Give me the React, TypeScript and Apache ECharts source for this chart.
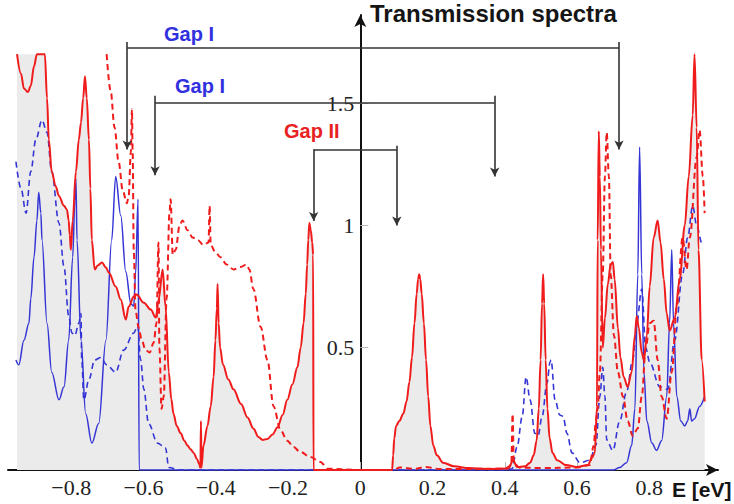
import React, { useEffect, useRef } from 'react';
import * as echarts from 'echarts';

// ---- data (E [eV], transmission) ----
const redSolid: [number, number][] = [
  [-0.950, 1.70], [-0.939, 1.62], [-0.931, 1.56], [-0.920, 1.545], [-0.912, 1.57], [-0.903, 1.65], [-0.895, 1.70],
  [-0.884, 1.70], [-0.873, 1.70], [-0.867, 1.52], [-0.862, 1.35], [-0.854, 1.22], [-0.843, 1.16], [-0.834, 1.12],
  [-0.820, 1.08], [-0.812, 1.065], [-0.807, 1.02], [-0.804, 0.96], [-0.801, 0.90], [-0.796, 1.02], [-0.787, 1.22],
  [-0.779, 1.35], [-0.773, 1.42], [-0.767, 1.52], [-0.762, 1.61], [-0.757, 1.52], [-0.751, 1.35], [-0.747, 1.15],
  [-0.743, 0.94], [-0.735, 0.82], [-0.727, 0.836], [-0.715, 0.848], [-0.704, 0.828], [-0.696, 0.807], [-0.677, 0.75],
  [-0.663, 0.697], [-0.649, 0.615], [-0.641, 0.668], [-0.627, 0.709], [-0.619, 0.717], [-0.599, 0.684], [-0.580, 0.656],
  [-0.566, 0.623], [-0.558, 0.697], [-0.547, 0.82], [-0.539, 0.668], [-0.530, 0.40], [-0.523, 0.29], [-0.517, 0.23],
  [-0.508, 0.18], [-0.497, 0.15], [-0.487, 0.12], [-0.478, 0.10], [-0.470, 0.085], [-0.461, 0.07], [-0.452, 0.045],
  [-0.446, 0.025], [-0.4425, 0.008], [-0.441, 0.2], [-0.4395, 0.01], [-0.434, 0.10], [-0.423, 0.18], [-0.414, 0.26],
  [-0.406, 0.38], [-0.401, 0.53], [-0.397, 0.66], [-0.395, 0.76], [-0.392, 0.6], [-0.388, 0.5], [-0.380, 0.43],
  [-0.365, 0.37], [-0.351, 0.33], [-0.330, 0.27], [-0.312, 0.215], [-0.296, 0.17], [-0.282, 0.135], [-0.270, 0.123],
  [-0.257, 0.127], [-0.243, 0.145], [-0.229, 0.175], [-0.215, 0.225], [-0.202, 0.287], [-0.188, 0.35], [-0.174, 0.42],
  [-0.165, 0.50], [-0.157, 0.60], [-0.151, 0.72], [-0.147, 0.84], [-0.144, 0.94], [-0.141, 1.01], [-0.137, 0.98],
  [-0.133, 0.93], [-0.1305, 0.88], [-0.1295, 0.0],
  [0.0, 0.0], [0.088, 0.0], [0.091, 0.06], [0.094, 0.13], [0.099, 0.18], [0.108, 0.20], [0.119, 0.23], [0.128, 0.28],
  [0.136, 0.36], [0.143, 0.46], [0.150, 0.60], [0.156, 0.72], [0.160, 0.78], [0.163, 0.80], [0.166, 0.78],
  [0.170, 0.72], [0.176, 0.60], [0.182, 0.45], [0.188, 0.30], [0.194, 0.18], [0.202, 0.10], [0.212, 0.06],
  [0.229, 0.03], [0.260, 0.015], [0.300, 0.008], [0.350, 0.004], [0.410, 0.006], [0.423, 0.04], [0.434, 0.012],
  [0.456, 0.015], [0.470, 0.03], [0.480, 0.06], [0.488, 0.12], [0.494, 0.25], [0.499, 0.45], [0.503, 0.68],
  [0.506, 0.80], [0.509, 0.68], [0.513, 0.45], [0.518, 0.25], [0.524, 0.13], [0.532, 0.07], [0.545, 0.04],
  [0.570, 0.02], [0.599, 0.012], [0.630, 0.02], [0.641, 0.05], [0.649, 0.07], [0.655, 0.258],
  [0.657, 0.94], [0.660, 1.385], [0.663, 1.2], [0.666, 0.9], [0.671, 0.5], [0.677, 0.62], [0.685, 0.76], [0.693, 0.84],
  [0.699, 0.85], [0.704, 0.78], [0.713, 0.58], [0.720, 0.46], [0.729, 0.38], [0.740, 0.34], [0.751, 0.40],
  [0.760, 0.55], [0.765, 0.63], [0.771, 0.58], [0.779, 0.48], [0.785, 0.45], [0.793, 0.55], [0.801, 0.75],
  [0.812, 0.95], [0.823, 1.02], [0.831, 0.93], [0.840, 0.78], [0.848, 0.64], [0.856, 0.57], [0.870, 0.62],
  [0.884, 0.78], [0.898, 1.0], [0.909, 1.2], [0.920, 1.45], [0.925, 1.70], [0.931, 1.4], [0.936, 0.9],
  [0.945, 0.45], [0.953, 0.28],
];

// the shaded band reaches the top of the frame over the leftmost resonance
const fillTopLeft: [number, number][] = [[-0.950, 1.70], [-0.873, 1.70]];

const redDashed: [number, number][] = [
  [-0.702, 1.70], [-0.691, 1.55], [-0.680, 1.40], [-0.669, 1.26], [-0.657, 1.14], [-0.646, 1.09], [-0.641, 1.12],
  [-0.635, 1.3], [-0.632, 1.475], [-0.630, 1.3], [-0.627, 0.9], [-0.622, 0.65], [-0.613, 0.58], [-0.605, 0.53],
  [-0.594, 0.49], [-0.583, 0.48], [-0.572, 0.52], [-0.564, 0.6], [-0.5585, 0.93], [-0.556, 0.5], [-0.550, 0.25],
  [-0.544, 0.3], [-0.536, 0.7], [-0.528, 1.05], [-0.525, 1.107], [-0.519, 0.88], [-0.511, 0.9], [-0.500, 1.0],
  [-0.492, 1.02], [-0.478, 0.98], [-0.464, 0.95], [-0.450, 0.94], [-0.434, 0.92], [-0.420, 0.93], [-0.417, 1.08],
  [-0.414, 0.92], [-0.401, 0.89], [-0.387, 0.87], [-0.370, 0.84], [-0.351, 0.82], [-0.331, 0.83], [-0.315, 0.84],
  [-0.307, 0.82], [-0.296, 0.74], [-0.276, 0.586], [-0.257, 0.45], [-0.240, 0.26], [-0.221, 0.164], [-0.202, 0.12],
  [-0.185, 0.094], [-0.166, 0.074], [-0.138, 0.053], [-0.110, 0.033], [-0.091, 0.005], [0.0, 0.0], [0.09, 0.0],
  [0.11, 0.01], [0.15, 0.005], [0.18, 0.012], [0.22, 0.004], [0.40, 0.005], [0.418, 0.02], [0.4215, 0.23],
  [0.425, 0.03], [0.44, 0.01], [0.50, 0.008], [0.60, 0.01], [0.635, 0.02], [0.646, 0.1], [0.652, 0.2], [0.657, 0.25],
  [0.663, 0.4], [0.671, 0.8], [0.677, 1.2], [0.682, 1.38], [0.688, 1.2], [0.693, 0.8], [0.702, 0.55], [0.713, 0.4],
  [0.727, 0.3], [0.740, 0.2], [0.754, 0.14], [0.768, 0.17], [0.779, 0.3], [0.790, 0.5], [0.801, 0.6], [0.812, 0.61],
  [0.823, 0.45], [0.834, 0.3], [0.848, 0.21], [0.862, 0.4], [0.876, 0.67], [0.892, 0.95], [0.903, 0.82],
  [0.912, 0.95], [0.931, 1.28], [0.939, 1.39], [0.948, 1.2], [0.953, 1.05],
];

const blueSolid: [number, number][] = [
  [-0.953, 0.45], [-0.945, 0.43], [-0.931, 0.53], [-0.917, 0.60], [-0.912, 0.70], [-0.903, 0.87], [-0.895, 1.02],
  [-0.890, 1.135], [-0.884, 1.05], [-0.881, 0.94], [-0.867, 0.60], [-0.854, 0.40], [-0.834, 0.287], [-0.820, 0.34],
  [-0.807, 0.53], [-0.796, 0.87], [-0.790, 1.1], [-0.787, 1.19], [-0.784, 0.94], [-0.773, 0.53], [-0.760, 0.23],
  [-0.743, 0.11], [-0.724, 0.19], [-0.704, 0.53], [-0.688, 0.94], [-0.677, 1.2], [-0.663, 1.04], [-0.649, 0.81],
  [-0.635, 0.68], [-0.627, 0.67], [-0.622, 0.8], [-0.615, 1.107], [-0.612, 0.0], [0.70, 0.0], [0.718, 0.01],
  [0.737, 0.03], [0.751, 0.1], [0.760, 0.25], [0.768, 0.8], [0.773, 1.32], [0.779, 0.8], [0.785, 0.4], [0.793, 0.2],
  [0.807, 0.11], [0.820, 0.08], [0.834, 0.12], [0.848, 0.3], [0.856, 0.6], [0.862, 0.9], [0.867, 0.6], [0.876, 0.3],
  [0.887, 0.2], [0.898, 0.18], [0.906, 0.2], [0.912, 0.25], [0.917, 0.2], [0.925, 0.21], [0.939, 0.26], [0.953, 0.3],
];

const blueDashed: [number, number][] = [
  [-0.953, 1.26], [-0.939, 1.15], [-0.925, 1.05], [-0.912, 1.22], [-0.898, 1.35], [-0.881, 1.43], [-0.867, 1.38],
  [-0.854, 1.22], [-0.834, 1.01], [-0.820, 0.83], [-0.807, 0.63], [-0.798, 0.56], [-0.790, 0.55], [-0.779, 0.6],
  [-0.773, 0.64], [-0.771, 0.45], [-0.765, 0.287], [-0.751, 0.37], [-0.735, 0.45], [-0.718, 0.46], [-0.702, 0.43],
  [-0.677, 0.40], [-0.655, 0.49], [-0.627, 0.56], [-0.616, 0.59], [-0.608, 0.45], [-0.599, 0.33], [-0.586, 0.19],
  [-0.561, 0.11], [-0.539, 0.09], [-0.530, 0.01], [-0.50, 0.0], [0.40, 0.0], [0.420, 0.005], [0.434, 0.094],
  [0.448, 0.217], [0.459, 0.38], [0.470, 0.287], [0.483, 0.15], [0.492, 0.14], [0.503, 0.217], [0.517, 0.357],
  [0.525, 0.44], [0.528, 0.45], [0.539, 0.287], [0.552, 0.225], [0.561, 0.22], [0.572, 0.15], [0.586, 0.07],
  [0.608, 0.03], [0.635, 0.04], [0.652, 0.1], [0.663, 0.3], [0.671, 0.42], [0.677, 0.30], [0.682, 0.123],
  [0.699, 0.08], [0.718, 0.2], [0.737, 0.32], [0.754, 0.45], [0.765, 0.6], [0.779, 0.74], [0.790, 0.5],
  [0.801, 0.44], [0.829, 0.34], [0.851, 0.33], [0.870, 0.53], [0.892, 0.8], [0.906, 0.95], [0.920, 1.08],
  [0.931, 1.0], [0.945, 0.93], [0.953, 0.93],
];

// gap brackets: horizontal bar [x1, x2, y], and arrows [x, yTop, yBottom]
const gapBars: [number, number, number][] = [
  [-0.645, 0.716, 1.725],
  [-0.568, 0.372, 1.5],
  [-0.129, 0.101, 1.311],
];
const gapArrows: [number, number, number][] = [
  [-0.645, 1.75, 1.31],
  [0.716, 1.75, 1.31],
  [-0.568, 1.53, 1.205],
  [0.372, 1.53, 1.2],
  [-0.129, 1.311, 1.018],
  [0.101, 1.325, 1.0],
];

const xTickValues = [-0.8, -0.6, -0.4, -0.2, 0, 0.2, 0.4, 0.6, 0.8];
const yTickValues = [0.5, 1, 1.5];

const X_MIN = -0.975;
const X_MAX = 0.99;
const GRID_LEFT = 8;
const GRID_RIGHT = 16;
const CHART_W = 734;

const RED = '#f01c1c';
const BLUE = '#3535d6';
const AXIS = '#111';
const BRACKET = '#333';
const SERIF = '"Liberation Serif", "DejaVu Serif", serif';
const SANS = '"Liberation Sans", Arial, sans-serif';

function fmtX(v: number): string {
  if (Math.abs(v) < 1e-9) return '0';
  const s = Math.abs(v).toFixed(1);
  return v < 0 ? '\u2212' + s : s;
}

export default function App() {
  const ref = useRef<HTMLDivElement>(null);
  useEffect(() => {
    if (!ref.current) return;
    const chart = echarts.init(ref.current, null, { renderer: 'svg' });
    // y axis sits at E = 0: shift it inward from the grid's left edge
    const plotW = CHART_W - GRID_LEFT - GRID_RIGHT;
    const zeroOffset = ((0 - X_MIN) / (X_MAX - X_MIN)) * plotW;
    const fillData = [
      ...fillTopLeft,
      ...redSolid.filter((p) => p[0] > fillTopLeft[fillTopLeft.length - 1][0]),
    ];
    const lineBase = {
      type: 'line',
      showSymbol: false,
      symbol: 'none',
      smooth: 0.35,
      smoothMonotone: 'x',
      silent: true,
      animation: false,
    };
    const option: any = {
      animation: false,
      grid: {
        left: GRID_LEFT,
        right: GRID_RIGHT,
        top: 15,
        bottom: 34,
        containLabel: false,
        outerBoundsMode: 'none',
      },
      xAxis: {
        type: 'value',
        min: X_MIN,
        max: X_MAX,
        splitLine: { show: false },
        axisLine: {
          show: true,
          onZero: false,
          symbol: ['none', 'arrow'],
          symbolSize: [9, 12],
          lineStyle: { color: AXIS, width: 2 },
        },
        axisTick: {
          show: true,
          inside: true,
          length: 8,
          customValues: xTickValues,
          lineStyle: { color: '#b8b8b8', width: 1 },
        },
        axisLabel: {
          show: true,
          customValues: xTickValues,
          formatter: (v: number) => fmtX(v),
          fontFamily: SERIF,
          fontSize: 22,
          color: '#222',
          margin: 6,
        },
      },
      yAxis: {
        type: 'value',
        min: 0,
        max: 1.86,
        position: 'left',
        offset: -zeroOffset,
        splitLine: { show: false },
        axisLine: {
          show: true,
          onZero: false,
          symbol: ['none', 'arrow'],
          symbolSize: [9, 12],
          lineStyle: { color: AXIS, width: 2 },
        },
        axisTick: {
          show: true,
          inside: true,
          length: 8,
          customValues: yTickValues,
          lineStyle: { color: '#b8b8b8', width: 1 },
        },
        axisLabel: {
          show: true,
          customValues: yTickValues,
          formatter: (v: number) => String(v),
          fontFamily: SERIF,
          fontSize: 22,
          color: '#222',
          margin: 6,
        },
      },
      series: [
        {
          ...lineBase,
          name: 'fill',
          data: fillData,
          lineStyle: { width: 0, opacity: 0 },
          areaStyle: { color: '#ebebeb', opacity: 1 },
          z: 1,
          markLine: {
            silent: true,
            animation: false,
            symbol: ['none', 'none'],
            label: { show: false },
            lineStyle: { color: BRACKET, width: 1.6, type: 'solid' },
            emphasis: { disabled: true },
            data: gapBars.map(([x1, x2, y]) => [{ coord: [x1, y] }, { coord: [x2, y] }]),
          },
        },
        {
          type: 'line',
          name: 'arrows',
          data: [],
          silent: true,
          markLine: {
            silent: true,
            animation: false,
            symbol: ['none', 'arrow'],
            symbolSize: [7, 9],
            label: { show: false },
            lineStyle: { color: BRACKET, width: 1.6, type: 'solid' },
            emphasis: { disabled: true },
            data: gapArrows.map(([x, y1, y2]) => [{ coord: [x, y1] }, { coord: [x, y2] }]),
          },
        },
        {
          ...lineBase,
          name: 'blueDashed',
          data: blueDashed,
          lineStyle: { color: BLUE, width: 1.6, type: [6, 4] },
          z: 2,
        },
        {
          ...lineBase,
          name: 'blueSolid',
          data: blueSolid,
          lineStyle: { color: BLUE, width: 1.5, type: 'solid' },
          z: 3,
        },
        {
          ...lineBase,
          name: 'redDashed',
          data: redDashed,
          lineStyle: { color: RED, width: 2, type: [6, 4] },
          z: 4,
        },
        {
          ...lineBase,
          name: 'redSolid',
          data: redSolid,
          lineStyle: { color: RED, width: 2, type: 'solid' },
          z: 5,
        },
      ],
      graphic: [
        {
          type: 'text',
          left: 370,
          top: 1,
          silent: true,
          style: { text: 'Transmission spectra', font: `bold 24px ${SANS}`, fill: '#151515' },
        },
        {
          type: 'text',
          left: 672,
          top: 479,
          silent: true,
          style: { text: 'E [eV]', font: `bold 21px ${SANS}`, fill: '#151515' },
        },
        {
          type: 'text',
          left: 164,
          top: 24,
          silent: true,
          style: { text: 'Gap I', font: `bold 20px ${SANS}`, fill: '#3030e0' },
        },
        {
          type: 'text',
          left: 175,
          top: 76,
          silent: true,
          style: { text: 'Gap I', font: `bold 20px ${SANS}`, fill: '#3030e0' },
        },
        {
          type: 'text',
          left: 284,
          top: 121,
          silent: true,
          style: { text: 'Gap II', font: `bold 20px ${SANS}`, fill: '#e82222' },
        },
      ],
    };
    chart.setOption(option);
    return () => chart.dispose();
  }, []);
  return (
    <div
      ref={ref}
      style={{ position: 'fixed', left: 0, top: 0, width: 734, height: 504, background: '#fff' }}
    />
  );
}
